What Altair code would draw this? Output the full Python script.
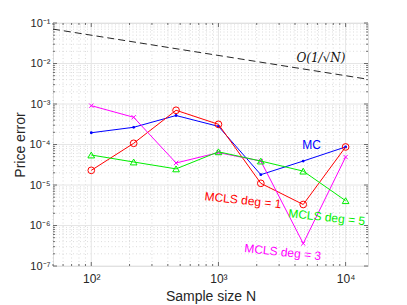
import altair as alt
import pandas as pd

# ---- data ----
N = [100, 215.4, 464.2, 1000, 2154, 4642, 10000]
mc = [1.95e-4, 2.66e-4, 5.2e-4, 2.8e-4, 1.8e-5, 3.9e-5, 8.7e-5]
deg1 = [2.3e-5, 1.07e-4, 7.0e-4, 3.15e-4, 1.1e-5, 3.3e-6, 8.7e-5]
deg3 = [9.1e-4, 4.7e-4, 3.5e-5, 6.3e-5, 3.9e-5, 3.6e-7, 4.9e-5]
deg5 = [5.5e-5, 3.7e-5, 2.5e-5, 6.6e-5, 3.9e-5, 2.2e-5, 4.1e-6]
ref_N = [50, 15000]
ref_err = [0.0707, 0.00408]

x_major = [100, 1000, 10000]
x_major_labels = ["10²", "10³", "10⁴"]
x_minor = [50, 60, 70, 80, 90, 200, 300, 400, 500, 600, 700, 800, 900,
           2000, 3000, 4000, 5000, 6000, 7000, 8000, 9000]
y_major = [1e-7, 1e-6, 1e-5, 1e-4, 1e-3, 1e-2, 1e-1]
y_major_labels = ["10⁻⁷", "10⁻⁶", "10⁻⁵", "10⁻⁴", "10⁻³", "10⁻²", "10⁻¹"]
y_minor = [float(f"{k}e{e}") for e in range(-7, -1) for k in range(2, 10)]

labels = ["MC", "MCLS deg = 1", "MCLS deg = 5", "MCLS deg = 3"]
label_x = [5400, 1560, 7100, 3200]
label_y = [9.6e-5, 4.2e-6, 1.6e-6, 2.2e-7]
label_color = ["#0000ff", "#ff0000", "#00ee00", "#ff00ff"]
label_angle = [0, 6, 6, 6]

W, H = 315, 243
xs = alt.Scale(type="log", domain=[50, 15000], nice=False)
ys = alt.Scale(type="log", domain=[1e-7, 1e-1], nice=False)


def expr(vals, labs):
    s = "''"
    for v, l in zip(vals, labs):
        s = f"(datum.value == {v!r}) ? '{l}' : ({s})"
    return s


gx_maj = pd.DataFrame({"x": x_major})
gx_min = pd.DataFrame({"x": x_minor})
gy_maj = pd.DataFrame({"y": y_major})
gy_min = pd.DataFrame({"y": y_minor})

minor_style = dict(color="#c4c4c4", strokeWidth=0.6, strokeDash=[1, 2.5])
grid_minor_x = alt.Chart(gx_min).mark_rule(**minor_style).encode(x=alt.X("x:Q", scale=xs))
grid_minor_y = alt.Chart(gy_min).mark_rule(**minor_style).encode(y=alt.Y("y:Q", scale=ys))
grid_major_x = alt.Chart(gx_maj).mark_rule(color="#e6e6e6", strokeWidth=1).encode(
    x=alt.X("x:Q", scale=xs))
grid_major_y = alt.Chart(gy_maj).mark_rule(color="#e6e6e6", strokeWidth=1).encode(
    y=alt.Y("y:Q", scale=ys))

tick_col = "#4d4d4d"
ticks = []
for df, L in ((gx_maj, 4), (gx_min, 2)):
    ticks.append(alt.Chart(df).mark_rule(color=tick_col, strokeWidth=0.8).encode(
        x=alt.X("x:Q", scale=xs), y=alt.value(H), y2=alt.value(H - L)))
    ticks.append(alt.Chart(df).mark_rule(color=tick_col, strokeWidth=0.8).encode(
        x=alt.X("x:Q", scale=xs), y=alt.value(0), y2=alt.value(L)))
for df, L in ((gy_maj, 4), (gy_min, 2)):
    ticks.append(alt.Chart(df).mark_rule(color=tick_col, strokeWidth=0.8).encode(
        y=alt.Y("y:Q", scale=ys), x=alt.value(0), x2=alt.value(L)))
    ticks.append(alt.Chart(df).mark_rule(color=tick_col, strokeWidth=0.8).encode(
        y=alt.Y("y:Q", scale=ys), x=alt.value(W), x2=alt.value(W - L)))

ref_df = pd.DataFrame({"N": ref_N, "err": ref_err})
ref_line = alt.Chart(ref_df).mark_line(color="#262626", strokeWidth=1, strokeDash=[7, 4]).encode(
    x=alt.X("N:Q", scale=xs,
            axis=alt.Axis(values=x_major, labelExpr=expr(x_major, x_major_labels), grid=False,
                          ticks=False, domain=False, title="Sample size N", labelFontSize=12,
                          labelColor="#262626", labelPadding=7, titleFontSize=14,
                          titleFontWeight="normal", titleColor="#262626", titlePadding=5,
                          labelFont="Liberation Sans", titleFont="Liberation Sans")),
    y=alt.Y("err:Q", scale=ys,
            axis=alt.Axis(values=y_major, labelExpr=expr(y_major, y_major_labels), grid=False,
                          ticks=False, domain=False, title="Price error", labelFontSize=11,
                          labelColor="#262626", labelPadding=3, titleFontSize=14,
                          titleFontWeight="normal", titleColor="#262626",
                          titleX=-33, titleY=H / 2, titleBaseline="middle",
                          labelFont="Liberation Sans", titleFont="Liberation Sans")),
)


def series(vals, color, shape, size, filled):
    df = pd.DataFrame({"N": N, "err": vals})
    base = alt.Chart(df).encode(x=alt.X("N:Q", scale=xs), y=alt.Y("err:Q", scale=ys))
    line = base.mark_line(color=color, strokeWidth=1)
    pts = base.mark_point(color=color, shape=shape, size=size, filled=filled, strokeWidth=1, opacity=1)
    return [line, pts]


cross = "M-1,-1L1,1M-1,1L1,-1"
layers = []
layers += series(mc, "#0000ff", "circle", 8, True)
layers += series(deg1, "#ff0000", "circle", 45, False)
layers += series(deg3, "#ff00ff", cross, 18, False)
layers += series(deg5, "#00ee00", "triangle-up", 45, False)

lab_df = pd.DataFrame({"x": label_x, "y": label_y, "t": labels})
texts = []
for i in range(len(labels)):
    texts.append(alt.Chart(lab_df.iloc[[i]]).mark_text(
        fontSize=12, font="Liberation Sans", color=label_color[i], angle=label_angle[i]).encode(
        x=alt.X("x:Q", scale=xs), y=alt.Y("y:Q", scale=ys), text="t:N"))

oref = pd.DataFrame({"x": [6400], "y": [0.0138], "t": ["O(1/√N)"]})
otext = alt.Chart(oref).mark_text(fontSize=12, font="DejaVu Serif", fontStyle="italic", color="#111111").encode(
    x=alt.X("x:Q", scale=xs), y=alt.Y("y:Q", scale=ys), text="t:N")

chart = alt.layer(
    grid_minor_x, grid_minor_y, grid_major_x, grid_major_y, *ticks, ref_line, *layers, *texts, otext
).properties(
    width=W, height=H, autosize=alt.AutoSizeParams(type="none"),
    padding={"left": 45, "top": 15, "right": 31, "bottom": 40},
).configure_view(stroke="#4d4d4d", strokeWidth=1).configure(background="white")

chart.save("out.html", embed_options={"renderer": "svg", "actions": False})
